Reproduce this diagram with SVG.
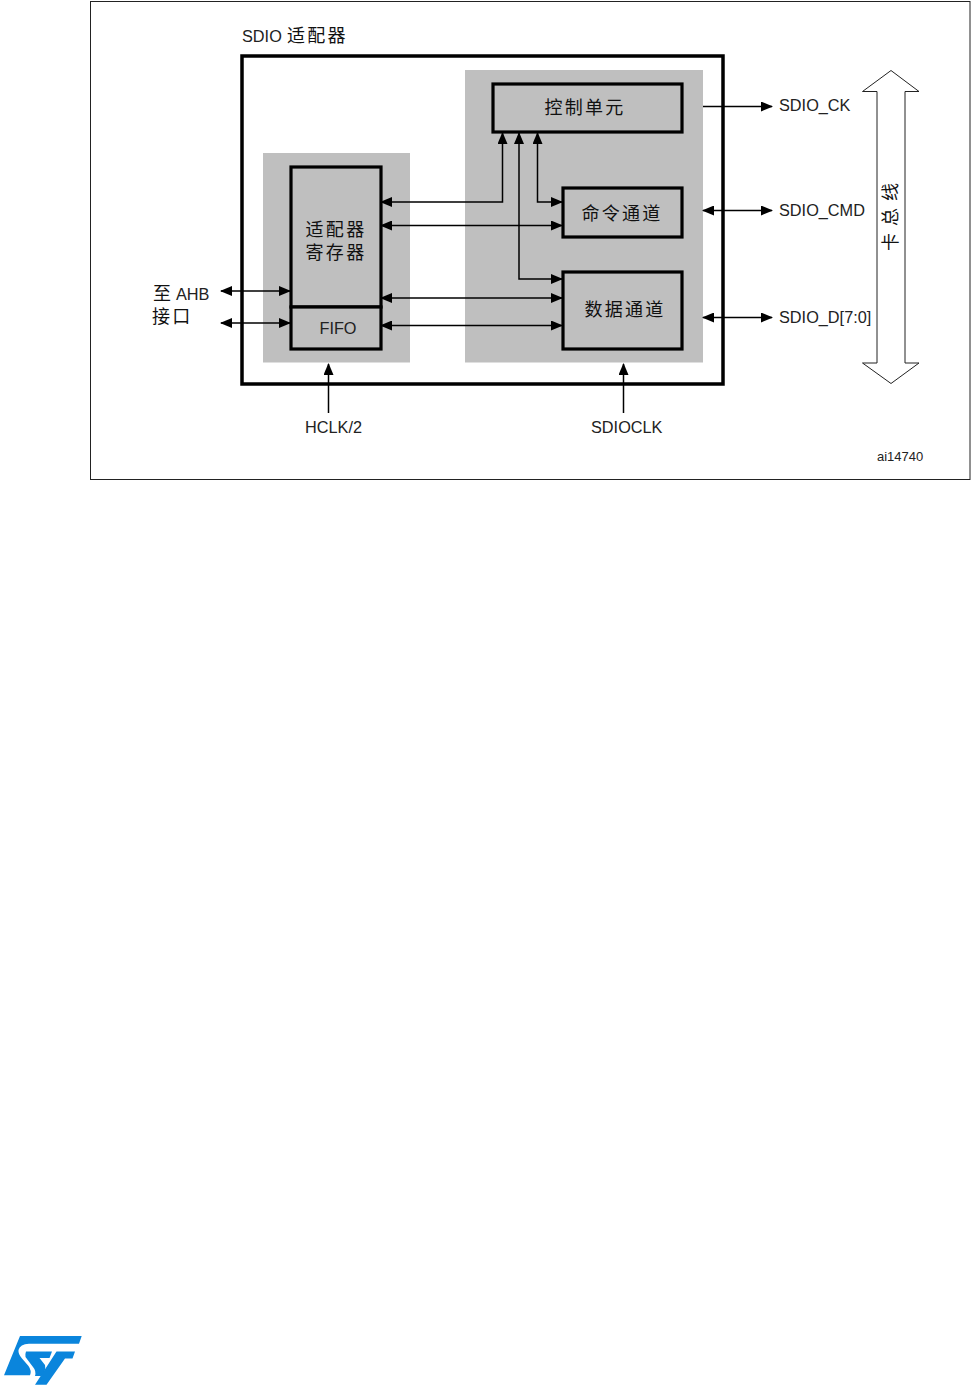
<svg xmlns="http://www.w3.org/2000/svg" width="972" height="1385" viewBox="0 0 972 1385">
<defs>
<marker id="ah" viewBox="0 0 12 10" refX="11" refY="5" markerWidth="12" markerHeight="10" markerUnits="userSpaceOnUse" orient="auto-start-reverse"><path d="M0 0L12 5L0 10Z" fill="#000"/></marker>
</defs>
<style>
text{font-family:"Liberation Sans","Noto Sans CJK SC",sans-serif;fill:#222;font-size:16.300px}
.cjk{font-family:"Noto Sans CJK SC",sans-serif;font-weight:400;font-size:18px;letter-spacing:2.300px;fill:#111}
.box{fill:#bfbfbf;stroke:#000;stroke-width:3.200}
.zone{fill:#bfbfbf}
.c{fill:none;stroke:#000;stroke-width:1.500}
.d{marker-end:url(#ah)}
.b{marker-end:url(#ah);marker-start:url(#ah)}
</style>
<rect width="972" height="1385" fill="#fff"/>
<rect x="90.500" y="1.500" width="879.500" height="478" fill="#fff" stroke="#222" stroke-width="1"/>
<g id="adapter"><rect x="242" y="56" width="481" height="328" fill="#fff" stroke="#000" stroke-width="3.500"/><text x="242" y="42">SDIO</text><text class="cjk" x="287" y="42">适配器</text></g>
<rect class="zone" x="465" y="70" width="238" height="292.500"/>
<rect class="zone" x="263" y="153" width="147" height="209.500"/>
<g id="control"><rect class="box" x="493" y="84" width="189" height="48"/><text class="cjk" x="585" y="114" text-anchor="middle">控制单元</text></g>
<g id="cmd"><rect class="box" x="563" y="188" width="119" height="49"/><text class="cjk" x="622" y="220" text-anchor="middle">命令通道</text></g>
<g id="data"><rect class="box" x="563" y="272" width="119" height="77"/><text class="cjk" x="625" y="316" text-anchor="middle">数据通道</text></g>
<g id="regs"><rect class="box" x="291" y="167" width="90" height="140"/><text class="cjk" x="336" y="236" text-anchor="middle">适配器</text><text class="cjk" x="336" y="259" text-anchor="middle">寄存器</text></g>
<g id="fifo"><rect class="box" x="291" y="307" width="90" height="42"/><text x="338" y="334" text-anchor="middle">FIFO</text></g>
<g id="connectors">
<path class="c b" d="M381 202H502.500V133"/>
<path class="c b" d="M381 225.500H562"/>
<path class="c b" d="M381 298H562"/>
<path class="c b" d="M381 325.500H562"/>
<path class="c b" d="M519 133V279H562"/>
<path class="c b" d="M537.500 133V202H562"/>
<path class="c d" d="M703 106.500H772"/>
<path class="c b" d="M703 210.500H772"/>
<path class="c b" d="M703 317.500H772"/>
<path class="c b" d="M221 291H290"/>
<path class="c b" d="M221 323H290"/>
<path class="c d" d="M328.500 413V364"/>
<path class="c d" d="M623.500 413V364"/>
</g>
<g id="bus"><path d="M877 91.500H862.500L891 70.500L919 91.500H905V363H919L891 383.500L862.500 363H877Z" fill="#fff" stroke="#222" stroke-width="1"/><text class="cjk" style="letter-spacing:7px" transform="translate(897,251) rotate(-90)">卡总线</text></g>
<g id="labels">
<text x="779" y="111">SDIO_CK</text>
<text x="779" y="216">SDIO_CMD</text>
<text x="779" y="323">SDIO_D[7:0]</text>
<text class="cjk" x="153" y="300">至</text><text x="176" y="300">AHB</text>
<text class="cjk" x="152" y="323">接口</text>
<text x="305" y="433">HCLK/2</text>
<text x="591" y="433">SDIOCLK</text>
<text x="877" y="461" style="font-size:13px">ai14740</text>
</g>
<g id="logo" fill="#0a85dc">
<path d="M20 1336H81.700L79 1343.700H29Q20 1344 18.500 1350Q18 1354 22 1358.500L28.500 1366Q32 1371 30 1375.300H4Z"/>
<path d="M26 1351.500H52L49.500 1358H39.500L45 1365Q46.500 1372 41 1376H35Q36.500 1371 33 1367L25.500 1357Q25 1354 26 1351.500Z"/>
<path d="M56.500 1351.500H75L72.500 1358.500H65L46.500 1384.700H35Z"/>
</g>
</svg>
